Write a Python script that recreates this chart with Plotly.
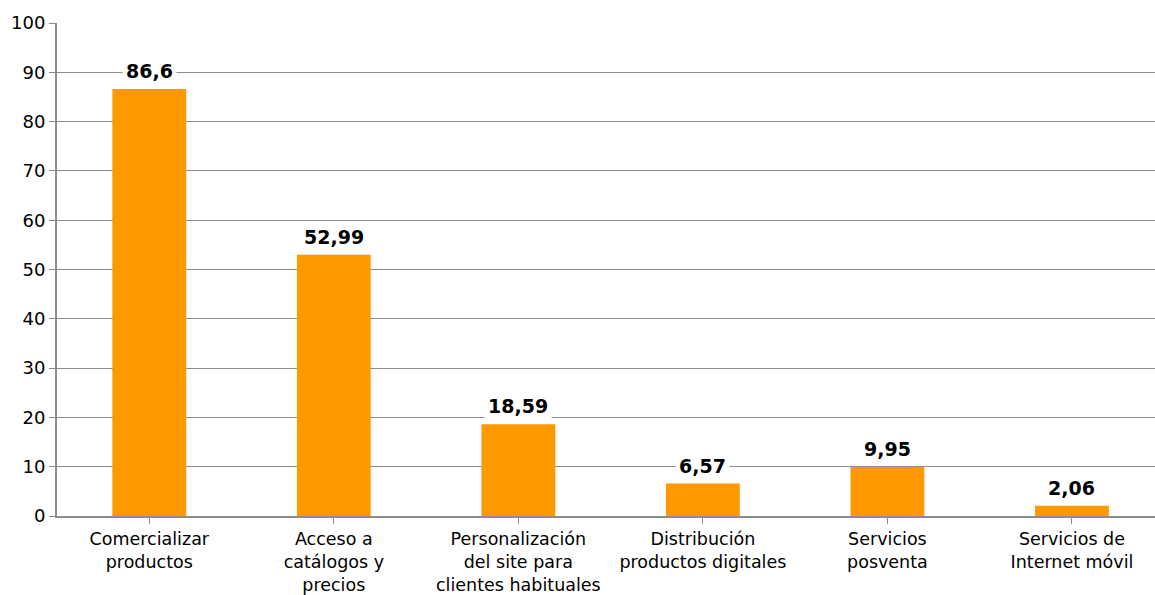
import plotly.graph_objects as go

categories = ["Comercializar<br>productos", "Acceso a<br>catálogos y<br>precios",
              "Personalización<br>del site para<br>clientes habituales",
              "Distribución<br>productos digitales", "Servicios<br>posventa",
              "Servicios de<br>Internet móvil"]
values = [86.6, 52.99, 18.59, 6.57, 9.95, 2.06]
labels = ["86,6", "52,99", "18,59", "6,57", "9,95", "2,06"]

FONT = "DejaVu Sans, Verdana, sans-serif"
GRID = "#8c8c8c"

fig = go.Figure()
fig.add_trace(go.Bar(x=list(range(len(categories))), y=values, width=0.4,
                     marker=dict(color="#FF9900", line=dict(width=0)),
                     hoverinfo="skip"))

for i, (v, t) in enumerate(zip(values, labels)):
    fig.add_annotation(x=i, y=v, text="<b>" + t + "</b>", showarrow=False,
                       yanchor="bottom", yshift=3, bgcolor="white",
                       borderpad=3, font=dict(family=FONT, size=19, color="black"))

fig.update_layout(
    width=1155, height=595,
    margin=dict(l=57, r=0, t=23, b=79, autoexpand=False),
    paper_bgcolor="white", plot_bgcolor="white",
    showlegend=False, bargap=0.6,
    font=dict(family=FONT, size=18, color="black"),
    xaxis=dict(tickmode="array", tickvals=list(range(len(categories))),
               ticktext=categories, range=[-0.5, 5.45], automargin=False,
               showgrid=False, showline=True, linecolor=GRID, linewidth=2,
               ticks="outside", tickson="boundaries", ticklen=6, tickcolor=GRID,
               tickwidth=1, tickangle=0, tickfont=dict(size=17.5), zeroline=False),
    yaxis=dict(range=[0, 100], dtick=10, showgrid=True, gridcolor=GRID, gridwidth=1.3,
               automargin=False,
               showline=True, linecolor=GRID, linewidth=2, ticks="outside",
               ticklen=6, tickcolor=GRID, tickfont=dict(size=18), zeroline=False),
)

fig.write_html("out.html", config={"displayModeBar": False},
               post_script="document.body.style.margin='0';")
